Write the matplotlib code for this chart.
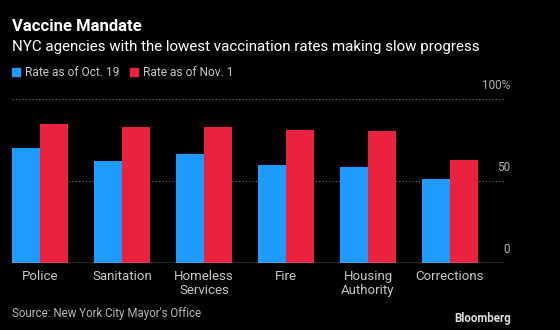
import matplotlib
matplotlib.use("Agg")
import matplotlib.pyplot as plt
import numpy as np
from matplotlib.patches import Rectangle

# Agencies and vaccination rates (%)
agencies = ["Police", "Sanitation", "Homeless\nServices", "Fire", "Housing\nAuthority", "Corrections"]
rate_oct19 = [70, 62, 66.6, 59.8, 58.7, 51]
rate_nov1 = [84.6, 83, 83, 81, 80.3, 62.8]
series_names = ["Rate as of Oct. 19", "Rate as of Nov. 1"]
y_ticks = [0, 50, 100]

BLUE = "#1f9bff"
RED = "#e8223f"
BG = "#000000"

plt.rcParams['font.family'] = ["Roboto", "DejaVu Sans"]

fig = plt.figure(figsize=(5.6, 3.3), dpi=100, facecolor=BG)
ax = fig.add_axes([12 / 560, 67 / 330, 492 / 560, 164 / 330], facecolor=BG)

x = np.arange(len(agencies))
w = 0.3415
ax.bar(x - w / 2, rate_oct19, width=w, color=BLUE, zorder=2)
ax.bar(x + w / 2, rate_nov1, width=w, color=RED, zorder=2)

ax.set_xlim(-0.341, len(agencies) - 0.341)
ax.set_ylim(0, 100)

# dotted gridlines with labels sitting above them at the right
for v in y_ticks[1:]:
    ax.axhline(v, color="#777777", linestyle=(0, (1, 2)), linewidth=0.8, zorder=1)
for v in y_ticks:
    lab = f"{v}%" if v == 100 else str(v)
    ax.text(1.0 + 6 / 492, v + 4, lab, transform=ax.get_yaxis_transform(),
            ha="right", va="bottom", color="#b0b0b0", fontsize=8.5)
ax.axhline(0, color="#cccccc", linewidth=1.0, zorder=3)

ax.set_xticks(x)
ax.set_xticklabels(agencies, color="#c8c8c8", fontsize=9.5, linespacing=1.15)
ax.tick_params(axis="x", length=0, pad=5)
ax.set_yticks([])
for s in ax.spines.values():
    s.set_visible(False)

fig.text(12 / 560, 1 - 31 / 330, "Vaccine Mandate", color="white", fontsize=12,
         fontweight="bold", va="baseline")
fig.text(12 / 560, 1 - 51 / 330, "NYC agencies with the lowest vaccination rates making slow progress",
         color="white", fontsize=10.9, va="baseline")

# legend
fig.patches.append(Rectangle((12 / 560, 1 - 76 / 330), 8 / 560, 8 / 330,
                             transform=fig.transFigure, color=BLUE))
fig.text(25 / 560, 1 - 76 / 330, series_names[0], color="#c8c8c8", fontsize=8.6, va="baseline")
fig.patches.append(Rectangle((130 / 560, 1 - 76 / 330), 8 / 560, 8 / 330,
                             transform=fig.transFigure, color=RED))
fig.text(143 / 560, 1 - 76 / 330, series_names[1], color="#c8c8c8", fontsize=8.6, va="baseline")

fig.text(12 / 560, 1 - 317 / 330, "Source: New York City Mayor's Office", color="#b8b8b8",
         fontsize=8.3, va="baseline")
fig.text(511 / 560, 1 - 322 / 330, "Bloomberg", color="#dddddd", fontsize=8.3,
         fontweight="bold", ha="right", va="baseline")

fig.savefig("out.png", dpi=100, facecolor=BG)
